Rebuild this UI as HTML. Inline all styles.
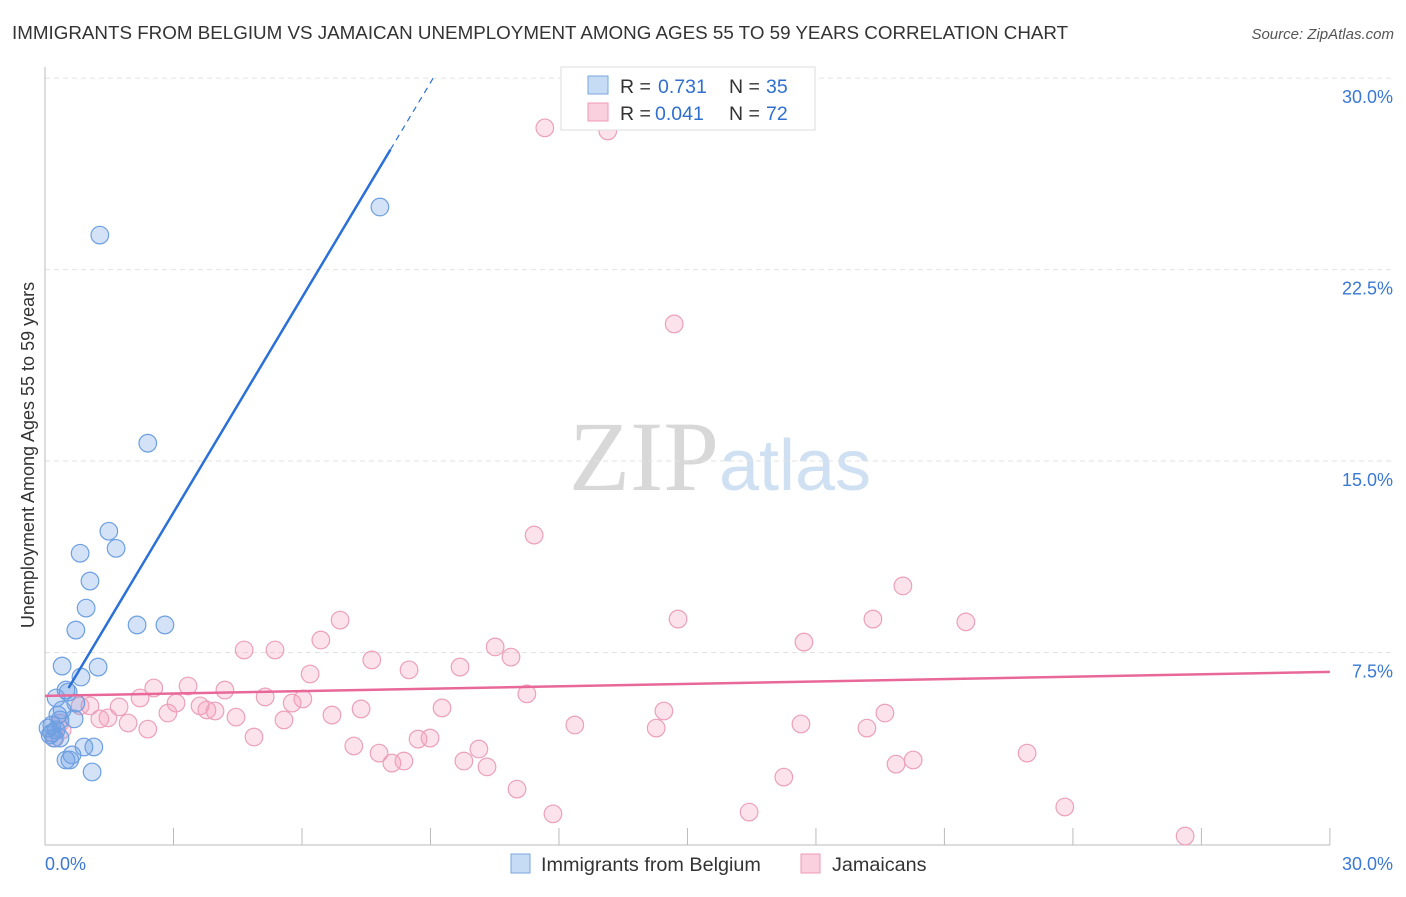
<!DOCTYPE html>
<html><head><meta charset="utf-8"><style>
body{margin:0;background:#fff;font-family:"Liberation Sans",sans-serif;}
</style></head><body>
<svg id="c" width="1406" height="892" font-family="Liberation Sans, sans-serif">
<text x="12" y="39" font-size="18.8" fill="#333">IMMIGRANTS FROM BELGIUM VS JAMAICAN UNEMPLOYMENT AMONG AGES 55 TO 59 YEARS CORRELATION CHART</text>
<text x="1394" y="39" font-size="15" fill="#555" font-style="italic" text-anchor="end">Source: ZipAtlas.com</text>
<text x="720" y="490" font-size="100" fill="#d8d8d8" text-anchor="middle" style="font-family:'Liberation Serif',serif">ZIP<tspan fill="#cfe0f3" style="font-family:'Liberation Sans',sans-serif" font-size="72">atlas</tspan></text>
<text transform="translate(34,455) rotate(-90)" font-size="18" fill="#333" text-anchor="middle">Unemployment Among Ages 55 to 59 years</text>
<g id="grid"></g><g id="pts"></g><g id="lines"></g>
<g>
<rect x="561" y="67" width="254" height="63" fill="#fff" stroke="#ddd"/>
<rect x="588" y="76" width="20" height="18" fill="#c6dcf5" stroke="#7aa7de"/>
<rect x="588" y="103" width="20" height="18" fill="#fbd0de" stroke="#ee9ab7"/>
<text x="620" y="93" font-size="19.5" fill="#333">R =</text>
<text x="658" y="93" font-size="19.5" fill="#2f6fd0">0.731</text>
<text x="729" y="93" font-size="19.5" fill="#333">N =</text>
<text x="766" y="93" font-size="19.5" fill="#2f6fd0">35</text>
<text x="620" y="120" font-size="19.5" fill="#333">R =</text>
<text x="655" y="120" font-size="19.5" fill="#2f6fd0">0.041</text>
<text x="729" y="120" font-size="19.5" fill="#333">N =</text>
<text x="766" y="120" font-size="19.5" fill="#2f6fd0">72</text>
</g>
<g>
<rect x="511" y="854" width="19" height="19" fill="#c6dcf5" stroke="#7aa7de"/>
<text x="541" y="871" font-size="19.8" fill="#333">Immigrants from Belgium</text>
<rect x="801" y="854" width="19" height="19" fill="#fbd0de" stroke="#ee9ab7"/>
<text x="832" y="871" font-size="19.8" fill="#333">Jamaicans</text>
</g>
</svg>
<script>
const yTicks=[7.5,15,22.5,30];
const yTickLabels=["7.5%","15.0%","22.5%","30.0%"];
const xTickVals=[0,3,6,9,12,15,18,21,24,27,30];
const blueX=[1.28,7.82,2.40,1.49,1.66,0.82,1.05,0.96,0.72,2.15,2.80,0.40,1.24,0.84,0.49,0.54,0.26,0.72,0.68,0.35,0.16,0.26,0.12,0.21,0.35,1.14,0.91,0.63,0.58,0.49,1.10,0.07,0.30,0.40,0.16];
const blueY=[23.85,24.95,15.70,12.25,11.58,11.39,10.30,9.24,8.38,8.58,8.58,6.97,6.93,6.54,6.03,5.95,5.72,5.52,4.90,4.86,4.66,4.47,4.27,4.15,4.15,3.80,3.80,3.49,3.29,3.29,2.82,4.54,5.05,5.25,4.35];
const pinkX=[11.67,13.14,14.69,11.42,20.03,6.89,14.78,19.33,21.50,6.44,17.72,4.65,5.37,10.51,7.63,10.88,9.69,6.19,8.50,2.54,3.34,4.20,5.14,6.02,5.77,3.06,2.22,3.62,1.73,1.05,3.78,3.97,7.38,9.27,11.25,14.45,19.61,2.87,4.46,6.70,1.47,1.28,1.94,5.58,0.35,12.37,17.65,14.27,19.19,2.40,4.88,8.71,8.99,7.21,10.13,7.80,22.93,9.78,8.10,8.38,10.32,20.27,19.87,17.25,11.02,11.86,16.44,23.81,26.62,0.82,0.23,0.40];
const pinkY=[28.05,27.93,20.37,12.10,10.11,8.77,8.81,8.81,8.70,7.99,7.91,7.60,7.60,7.72,7.21,7.32,6.93,6.66,6.82,6.11,6.19,6.03,5.76,5.68,5.52,5.52,5.72,5.41,5.37,5.41,5.25,5.21,5.29,5.33,5.88,5.21,5.13,5.13,4.97,5.05,4.94,4.90,4.74,4.86,4.74,4.66,4.70,4.54,4.54,4.50,4.19,4.11,4.15,3.84,3.72,3.56,3.56,3.25,3.17,3.25,3.02,3.29,3.13,2.62,2.15,1.18,1.25,1.45,0.31,5.41,4.15,4.47];
const NS="http://www.w3.org/2000/svg";
const X=v=>45+v*42.83, Y=v=>844-v*25.53;
function mk(t,a,p){const e=document.createElementNS(NS,t);for(const k in a)e.setAttribute(k,a[k]);p.appendChild(e);return e;}
const g=document.getElementById('grid');
yTicks.forEach((v,i)=>{
 const l=mk('line',{x1:45,x2:1394,y1:Y(v),y2:Y(v),stroke:'#e2e2e2','stroke-dasharray':'5,4'},g);
 
 
 const t=mk('text',{x:1393,y:Y(v)+25,'font-size':18,fill:'#3a78d4','text-anchor':'end'},g);t.textContent=yTickLabels[i];
 
 
});
mk('line',{x1:45,x2:45,y1:67,y2:845,stroke:'#bbb'},g);
mk('line',{x1:45,x2:1330,y1:845,y2:845,stroke:'#bbb'},g);
xTickVals.forEach(v=>{if(v>0){const l=mk('line',{x1:X(v),x2:X(v),y1:828,y2:845,stroke:'#bbb'},g);
 
 }});
let t=mk('text',{x:45,y:870,'font-size':18,fill:'#3a78d4'},g);t.textContent='0.0%';


t=mk('text',{x:1393,y:870,'font-size':18,fill:'#3a78d4','text-anchor':'end'},g);t.textContent='30.0%';


const P=document.getElementById('pts');
pinkX.forEach((x,i)=>{const c=mk('circle',{cx:X(x),cy:Y(pinkY[i]),r:8.8,fill:'rgba(244,160,190,0.3)',stroke:'#eba0bb','stroke-width':1.2},P);
 
 });
blueX.forEach((x,i)=>{const c=mk('circle',{cx:X(x),cy:Y(blueY[i]),r:8.8,fill:'rgba(110,160,230,0.3)',stroke:'#6d9fe0','stroke-width':1.2},P);
 
 });
function reg(xs,ys){const n=xs.length;let mx=0,my=0;xs.forEach((x,i)=>{mx+=x;my+=ys[i]});mx/=n;my/=n;let sxy=0,sxx=0;xs.forEach((x,i)=>{sxy+=(x-mx)*(ys[i]-my);sxx+=(x-mx)**2});const b=sxy/sxx;return [my-b*mx,b];}
const L=document.getElementById('lines');
const [pa,pb]=reg(pinkX,pinkY);
let ln=mk('line',{x1:X(0),y1:Y(pa),x2:X(30),y2:Y(pa+pb*30),stroke:'#e8689a','stroke-width':2.5},L);


const [ba,bb]=reg(blueX,blueY);
const xs=0.55, xe=Math.min(30,(27.2-ba)/bb), xd=Math.min(30,(30-ba)/bb);
ln=mk('line',{x1:X(xs),y1:Y(ba+bb*xs),x2:X(xe),y2:Y(ba+bb*xe),stroke:'#2a70d8','stroke-width':2.5},L);


ln=mk('line',{x1:X(xe),y1:Y(ba+bb*xe),x2:X(xd),y2:Y(ba+bb*xd),stroke:'#2a70d8','stroke-width':1.2,'stroke-dasharray':'6,5'},L);


</script>
</body></html>
